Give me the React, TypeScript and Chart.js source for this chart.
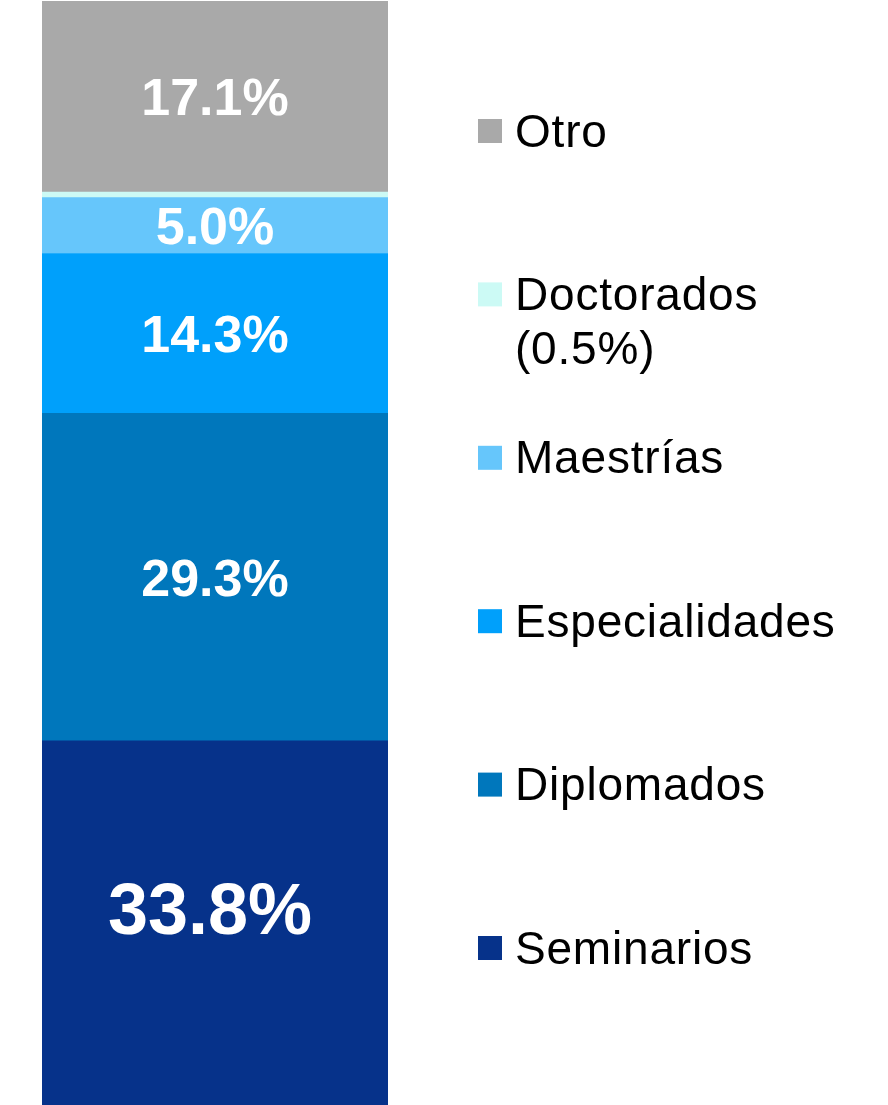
import React, { useEffect, useRef } from "react";
import { Chart, registerables } from "chart.js";

Chart.register(...registerables);

// ---- Data ----
const categories = ["Programas"];
const seriesNames = ["Seminarios", "Diplomados", "Especialidades", "Maestrías", "Doctorados", "Otro"];
const seriesValues = [33.8, 29.3, 14.3, 5.0, 0.5, 17.1];
const seriesColors = ["#06328A", "#0077BC", "#00A0FB", "#66C6FB", "#CCFAF5", "#A9A9A9"];
const legendLines = [["Seminarios"], ["Diplomados"], ["Especialidades"], ["Maestrías"], ["Doctorados", "(0.5%)"], ["Otro"]];
const showBarLabel = [true, true, true, true, false, true];

const FONT = "'Liberation Sans', Arial, Helvetica, sans-serif";

const barLabelPlugin = {
  id: "barLabels",
  afterDatasetsDraw(chart: any, _args: any, opts: any) {
    const ctx = chart.ctx;
    const area = chart.chartArea;
    ctx.save();
    ctx.fillStyle = "#FFFFFF";
    ctx.textAlign = "center";
    ctx.textBaseline = "alphabetic";
    chart.data.datasets.forEach((ds: any, i: number) => {
      if (!showBarLabel[i]) return;
      const meta = chart.getDatasetMeta(i);
      const el: any = meta.data[0];
      if (!el) return;
      const top = Math.max(Math.min(el.y, el.base), area.top);
      const bottom = Math.min(Math.max(el.y, el.base), area.bottom);
      const size = (opts.sizes && opts.sizes[i]) || 52;
      const dy = (opts.dy && opts.dy[i]) || 0;
      const dx = (opts.dx && opts.dx[i]) || 0;
      ctx.font = `bold ${size}px ${FONT}`;
      const v = ds.data[0] as number;
      ctx.fillText(v.toFixed(1) + "%", el.x + dx, (top + bottom) / 2 + 0.358 * size + dy);
    });
    ctx.restore();
  },
};

const sideLegendPlugin = {
  id: "sideLegend",
  afterDraw(chart: any, _args: any, opts: any) {
    const ctx = chart.ctx;
    ctx.save();
    ctx.font = `${opts.fontSize}px ${FONT}`;
    try {
      (ctx as any).letterSpacing = opts.letterSpacing + "px";
    } catch (e) {}
    ctx.textAlign = "left";
    ctx.textBaseline = "alphabetic";
    const n = chart.data.datasets.length;
    for (let k = 0; k < n; k++) {
      const idx = n - 1 - k;
      const ds = chart.data.datasets[idx];
      const cy = opts.firstY + k * opts.spacing;
      ctx.fillStyle = ds.backgroundColor;
      ctx.fillRect(opts.boxX, cy - opts.boxSize / 2, opts.boxSize, opts.boxSize);
      ctx.fillStyle = "#000000";
      const lines = legendLines[idx];
      lines.forEach((line: string, j: number) => {
        ctx.fillText(line, opts.textX, cy + opts.baselineOffset + j * opts.lineHeight);
      });
    }
    ctx.restore();
  },
};

export default function App() {
  const ref = useRef<HTMLCanvasElement | null>(null);

  useEffect(() => {
    document.body.style.margin = "0";
    if (!ref.current) return;
    const chart = new Chart(ref.current, {
      type: "bar",
      data: {
        labels: categories,
        datasets: seriesNames.map((name, i) => ({
          label: name,
          data: [seriesValues[i]],
          backgroundColor: seriesColors[i],
          borderWidth: 0,
          barPercentage: 1,
          categoryPercentage: 1,
        })),
      },
      options: {
        animation: false,
        responsive: false,
        layout: { padding: { left: 42, right: 500, top: 1, bottom: 0 } },
        scales: {
          x: { stacked: true, display: false },
          y: { stacked: true, display: false, min: 1.2, max: 100 },
        },
        plugins: {
          legend: { display: false },
          tooltip: { enabled: false },
          barLabels: {
            sizes: [72, 52, 52, 52, 52, 52],
            dy: [-15, 0, 0, 0, 0, 0],
            dx: [-5, 0, 0, 0, 0, 0],
          },
          sideLegend: {
            fontSize: 46,
            letterSpacing: 0.8,
            boxX: 478,
            boxSize: 24,
            textX: 515,
            firstY: 131,
            spacing: 163.4,
            baselineOffset: 15.5,
            lineHeight: 54,
          },
        } as any,
      },
      plugins: [barLabelPlugin, sideLegendPlugin],
    });
    return () => chart.destroy();
  }, []);

  return (
    <div style={{ position: "absolute", left: 0, top: 0, width: 888, height: 1105 }}>
      <canvas ref={ref} width={888} height={1105} style={{ display: "block" }} />
    </div>
  );
}
